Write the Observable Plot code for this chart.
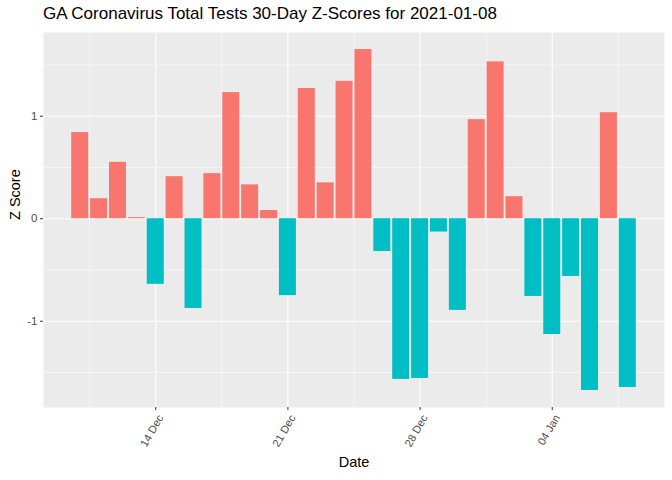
<!DOCTYPE html>
<html>
<head>
<meta charset="utf-8">
<script src="https://cdn.jsdelivr.net/npm/d3@7"></script>
<script src="https://cdn.jsdelivr.net/npm/@observablehq/plot@0.6"></script>
<style>
  html, body { margin: 0; padding: 0; background: #fff; }
  #wrap { position: relative; width: 672px; height: 480px; font-family: "Liberation Sans", Arial, sans-serif; }
  #title { position: absolute; left: 43px; top: 4px; font-size: 17px; color: #000; white-space: nowrap; }
</style>
</head>
<body>
<div id="wrap">
  <div id="title">GA Coronavirus Total Tests 30-Day Z-Scores for 2021-01-08</div>
</div>
<script>
const dates = [
  "2020-12-10","2020-12-11","2020-12-12","2020-12-13","2020-12-14","2020-12-15","2020-12-16",
  "2020-12-17","2020-12-18","2020-12-19","2020-12-20","2020-12-21","2020-12-22","2020-12-23",
  "2020-12-24","2020-12-25","2020-12-26","2020-12-27","2020-12-28","2020-12-29","2020-12-30",
  "2020-12-31","2021-01-01","2021-01-02","2021-01-03","2021-01-04","2021-01-05","2021-01-06",
  "2021-01-07","2021-01-08"
];
const zScores = [
  0.84, 0.195, 0.55, 0.01, -0.64, 0.41, -0.875,
  0.44, 1.23, 0.33, 0.08, -0.75, 1.27, 0.35,
  1.34, 1.65, -0.32, -1.567, -1.558, -0.13, -0.894,
  0.966, 1.53, 0.215, -0.758, -1.129, -0.563, -1.675,
  1.034, -1.646
];
const majorTicks = ["2020-12-14","2020-12-21","2020-12-28","2021-01-04"];
const minorTicks = ["2020-12-10T12:00Z","2020-12-17T12:00Z","2020-12-24T12:00Z","2020-12-31T12:00Z","2021-01-07T12:00Z"];
const yMajor = [-1, 0, 1];
const yMinor = [-1.5, -0.5, 0.5, 1.5];

const DAY = 864e5;
const data = dates.map((d, i) => ({date: new Date(d + "T00:00Z"), z: zScores[i]}));
const majorDates = majorTicks.map(d => new Date(d + "T00:00Z"));
const minorDates = minorTicks.map(d => new Date(d));

// ggplot-like domains: bar width 0.9 day, 5% expansion
const xmin = d3.min(data, d => +d.date) - 0.45 * DAY;
const xmax = d3.max(data, d => +d.date) + 0.45 * DAY;
const xpad = (xmax - xmin) * 0.05;
const ymin = d3.min(zScores), ymax = d3.max(zScores);
const ypad = (ymax - ymin) * 0.05;

const fmt = d3.utcFormat("%d %b");

const chart = Plot.plot({
  width: 672,
  height: 480,
  marginTop: 32,
  marginLeft: 43,
  marginRight: 8,
  marginBottom: 73,
  style: {fontFamily: "Liberation Sans, Arial, sans-serif", background: "transparent"},
  x: {type: "utc", domain: [new Date(xmin - xpad), new Date(xmax + xpad)]},
  y: {domain: [ymin - ypad, ymax + ypad]},
  color: {domain: ["pos", "neg"], range: ["#F8766D", "#00BFC4"]},
  marks: [
    Plot.frame({fill: "#EBEBEB", stroke: null}),
    Plot.ruleX(minorDates, {x: d => d, stroke: "white", strokeWidth: 0.55}),
    Plot.ruleY(yMinor, {y: d => d, stroke: "white", strokeWidth: 0.55}),
    Plot.ruleX(majorDates, {x: d => d, stroke: "white", strokeWidth: 1.1}),
    Plot.ruleY(yMajor, {y: d => d, stroke: "white", strokeWidth: 1.1}),
    Plot.rectY(data, {
      x1: d => new Date(+d.date - 0.45 * DAY),
      x2: d => new Date(+d.date + 0.45 * DAY),
      y1: 0,
      y2: "z",
      fill: d => d.z >= 0 ? "pos" : "neg"
    }),
    Plot.axisY({ticks: yMajor, tickFormat: d => d === 0 ? "0" : String(d), tickSize: 3, tickPadding: 3,
      fontSize: 11.5, color: "#4D4D4D", stroke: "#333", label: null}),
    Plot.axisX({ticks: majorDates, tickSize: 3, text: null, stroke: "#333", label: null}),
    Plot.text(majorDates, {x: d => d, text: d => fmt(d), frameAnchor: "bottom", dx: 8, dy: 10,
      rotate: -60, textAnchor: "end", fontSize: 11, fill: "#4D4D4D"}),
    Plot.text(["Date"], {frameAnchor: "bottom", dy: 59, fontSize: 14.5, fill: "#000"}),
    Plot.text(["Z Score"], {frameAnchor: "left", dx: -28, rotate: -90, fontSize: 14.5, fill: "#000"})
  ]
});
document.getElementById("wrap").appendChild(chart);
</script>
</body>
</html>
